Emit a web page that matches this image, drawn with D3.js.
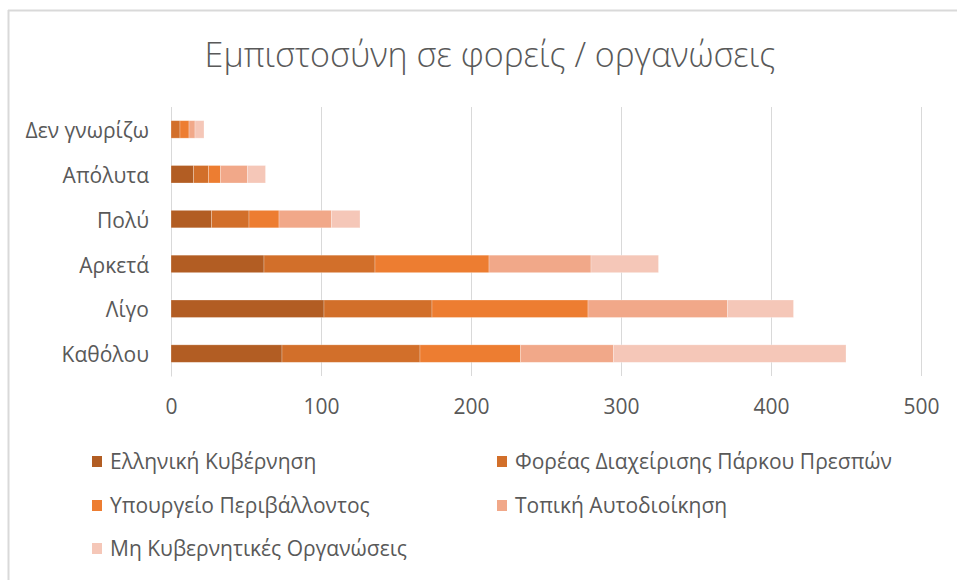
<!DOCTYPE html>
<html>
<head>
<meta charset="utf-8">
<script src="https://cdn.jsdelivr.net/npm/d3@7"></script>
<style>
  html, body { margin: 0; padding: 0; background: #fff; }
  svg { display: block; }
  text { font-family: "Open Sans", "Noto Sans", sans-serif; fill: #595959; }
</style>
</head>
<body>
<svg id="chart" width="957" height="580"></svg>
<script>
const title = "Εμπιστοσύνη σε φορείς / οργανώσεις";
const categories = ["Καθόλου", "Λίγο", "Αρκετά", "Πολύ", "Απόλυτα", "Δεν γνωρίζω"];
const seriesNames = ["Ελληνική Κυβέρνηση", "Φορέας Διαχείρισης Πάρκου Πρεσπών", "Υπουργείο Περιβάλλοντος", "Τοπική Αυτοδιοίκηση", "Μη Κυβερνητικές Οργανώσεις"];
const ellinikiKyvernisi = [74, 102, 62, 27, 15, 0];
const foreasDiaxeirisis = [92, 72, 74, 25, 10, 6];
const ypourgeioPerivallontos = [67, 104, 76, 20, 8, 6];
const topikiAutodioikisi = [62, 93, 68, 35, 18, 4];
const mkOrganoseis = [155, 44, 45, 19, 12, 6];
const xTicks = [0, 100, 200, 300, 400, 500];
const colors = ["#B25D23", "#D26F2A", "#ED7D31", "#F1A889", "#F5C7B8"];

const seriesValues = [ellinikiKyvernisi, foreasDiaxeirisis, ypourgeioPerivallontos, topikiAutodioikisi, mkOrganoseis];
const table = categories.map((c, i) => {
  const row = { category: c };
  seriesNames.forEach((s, j) => row[s] = seriesValues[j][i]);
  return row;
});
const stacked = d3.stack().keys(seriesNames)(table);

const svg = d3.select("#chart");

// chart border (top and left visible)
svg.append("line").attr("x1", 8).attr("x2", 957).attr("y1", 10.5).attr("y2", 10.5)
  .attr("stroke", "#D9D9D9").attr("stroke-width", 2);
svg.append("line").attr("x1", 8.5).attr("x2", 8.5).attr("y1", 10).attr("y2", 580)
  .attr("stroke", "#D9D9D9").attr("stroke-width", 2);

svg.append("text").attr("x", 490).attr("y", 67).attr("text-anchor", "middle")
  .style("font-size", "34px").style("font-weight", 300).text(title);

const x = d3.scaleLinear().domain([0, 500]).range([171, 921]);
const y = d3.scaleBand().domain(categories.slice().reverse()).range([107, 376]).paddingInner(0.61).paddingOuter(0.305);

// gridlines
const grid = svg.append("g").attr("transform", "translate(0,107)")
  .call(d3.axisBottom(x).tickValues(xTicks).tickSize(269).tickFormat(""));
grid.select(".domain").remove();
grid.selectAll("line").attr("stroke", "#D9D9D9").attr("stroke-width", 1);

// x-axis labels
const xa = svg.append("g").attr("transform", "translate(0,376)")
  .call(d3.axisBottom(x).tickValues(xTicks).tickSize(0).tickPadding(23));
xa.select(".domain").remove();
xa.selectAll("text").style("font-size", "21px").attr("fill", "#595959")
  .style("font-family", "'Open Sans', sans-serif");

// category axis
const ya = svg.append("g").attr("transform", "translate(171,0)")
  .call(d3.axisLeft(y).tickSize(0).tickPadding(22));
ya.select(".domain").attr("stroke", "#D9D9D9").attr("stroke-width", 1);
ya.selectAll("text").style("font-size", "21px").attr("fill", "#595959")
  .attr("y", 2)
  .style("font-family", "'Open Sans', sans-serif");

// bars
svg.append("g").selectAll("g").data(stacked).join("g")
  .attr("fill", (d, i) => colors[i])
  .selectAll("rect").data(d => d).join("rect")
  .attr("x", d => x(d[0]))
  .attr("width", d => Math.max(0, x(d[1]) - x(d[0])))
  .attr("y", d => y(d.data.category))
  .attr("height", y.bandwidth())
  .attr("stroke", "#ffffff").attr("stroke-opacity", 0.35).attr("stroke-width", 0.75);

// legend
const legendPos = [[92, 462], [497, 462], [92, 506], [497, 506], [92, 549]];
const lg = svg.append("g").selectAll("g").data(seriesNames).join("g")
  .attr("transform", (d, i) => `translate(${legendPos[i][0]},${legendPos[i][1]})`);
lg.append("rect").attr("x", 0).attr("y", -6).attr("width", 10).attr("height", 11)
  .attr("fill", (d, i) => colors[i]);
lg.append("text").attr("x", 18).attr("y", 0).attr("dy", "0.35em")
  .style("font-size", "21px").text(d => d);
</script>
</body>
</html>
